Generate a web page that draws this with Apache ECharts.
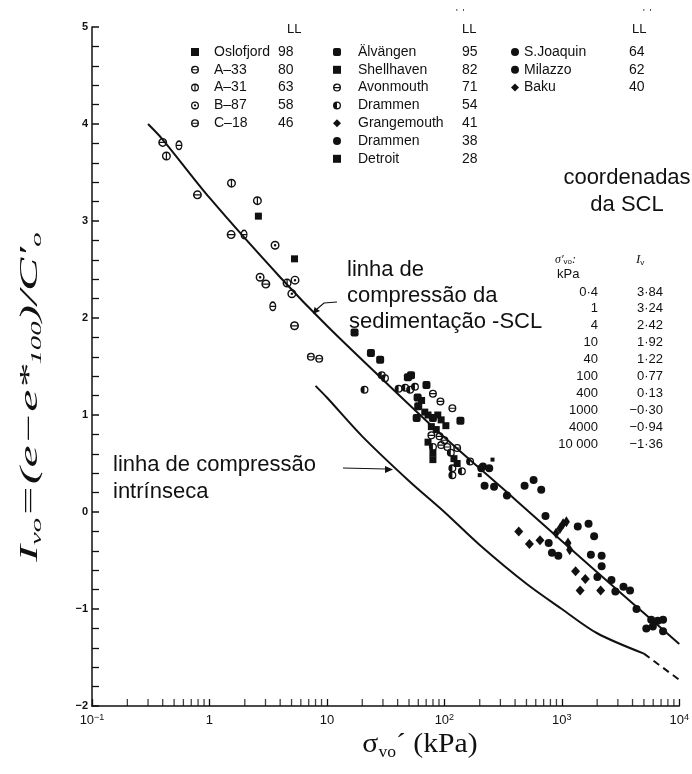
<!DOCTYPE html>
<html>
<head>
<meta charset="utf-8">
<script src="https://cdn.jsdelivr.net/npm/echarts@6/dist/echarts.min.js"></script>
<style>
  html, body { margin: 0; padding: 0; background: #fff; }
  #chart { width: 692px; height: 774px; }
</style>
</head>
<body>
<div id="chart"></div>
<script>
// ---- sedimentation compression line (SCL) coordinates, as tabulated ----
const sclStress = [0.4, 1, 4, 10, 40, 100, 400, 1000, 4000, 10000];
const sclIv = [3.84, 3.24, 2.42, 1.92, 1.22, 0.77, 0.13, -0.30, -0.94, -1.36];
const sclStart = [0.3, 4.0];

// ---- intrinsic compression line (solid part, then dashed extension) ----
const iclStress = [8, 10, 20, 50, 100, 200, 500, 1000, 2000, 5000];
const iclIv = [1.30, 1.18, 0.78, 0.32, 0.0, -0.34, -0.74, -1.00, -1.25, -1.46];
const iclDashStress = [5000, 10000];
const iclDashIv = [-1.46, -1.73];

// ---- legend columns: clay names and liquid limits ----
const col1Keys = ['oslofjord', 'a33', 'a31', 'b87', 'c18'];
const col1Labels = ['Oslofjord', 'A–33', 'A–31', 'B–87', 'C–18'];
const col1LL = [98, 80, 63, 58, 46];
const col2Keys = ['alvangen', 'shellhaven', 'avonmouth', 'drammen54', 'grangemouth', 'drammen38', 'detroit'];
const col2Labels = ['Älvängen', 'Shellhaven', 'Avonmouth', 'Drammen', 'Grangemouth', 'Drammen', 'Detroit'];
const col2LL = [95, 82, 71, 54, 41, 38, 28];
const col3Keys = ['sjoaquin', 'milazzo', 'baku'];
const col3Labels = ['S.Joaquin', 'Milazzo', 'Baku'];
const col3LL = [64, 62, 40];

// ---- measured points [σ'vo (kPa), Ivo] ----
const oslofjord = [[2.61, 3.05], [5.3, 2.61]];
const a33 = [[0.40, 3.81], [0.79, 3.27], [1.53, 2.86], [3.02, 2.35], [5.3, 1.92]];
const a31 = [[0.43, 3.67], [1.54, 3.39], [2.56, 3.21], [4.58, 2.36]];
const b87 = [[2.70, 2.42], [3.62, 2.75], [5.35, 2.39], [5.03, 2.25]];
const c18 = [[0.55, 3.78], [1.97, 2.86], [3.46, 2.12]];
const alvangen = [[17.2, 1.85], [23.7, 1.64], [28.4, 1.57], [48.9, 1.39], [52, 1.41], [70.4, 1.31],
  [137, 0.94], [59.2, 1.18], [59.9, 1.09], [58.1, 0.97], [79.9, 0.97]];
const shellhaven = [[64, 1.15], [68.1, 1.03], [72.6, 1.00], [87.9, 1.00], [93.9, 0.95], [103, 0.89],
  [77.5, 0.88], [85.3, 0.85], [72.6, 0.72], [79.9, 0.61], [79.9, 0.54], [120.7, 0.55], [128.5, 0.50]];
const avonmouth = [[7.3, 1.60], [8.6, 1.58], [79.9, 1.22], [92.6, 1.14], [117, 1.07], [77.5, 0.79],
  [90.9, 0.78], [100, 0.74], [93.9, 0.69], [106, 0.67], [128.5, 0.66]];
const drammen54 = [[20.9, 1.26], [29.3, 1.41], [31.2, 1.38], [40.8, 1.27], [46.4, 1.28], [51.1, 1.26],
  [56.2, 1.29], [79.9, 0.67], [113.5, 0.61], [117, 0.45], [141, 0.42], [117, 0.38], [165.6, 0.52], [206, 0.45]];
const grangemouth = [[430, -0.20], [530, -0.33], [652, -0.29], [1309, -0.61], [1585, -0.69], [1432, -0.81], [2142, -0.81]];
const drammen38 = [[213, 0.47], [241, 0.45], [220, 0.27], [265, 0.26], [341, 0.17]];
const detroit = [[257, 0.54], [200, 0.38]];
const sjoaquin = [[482, 0.27], [575, 0.33], [668, 0.23], [726, -0.04], [1367, -0.15], [1689, -0.12], [1884, -0.25]];
const milazzo = [[773, -0.32], [824, -0.42], [934, -0.45], [1768, -0.44], [2183, -0.45], [2183, -0.56],
  [2007, -0.67], [2646, -0.70], [2858, -0.82], [3350, -0.77], [3810, -0.81], [4325, -1.00],
  [5768, -1.11], [6561, -1.12], [5240, -1.20], [5957, -1.18], [7280, -1.11], [7280, -1.23]];
const baku = [[893, -0.22], [964, -0.17], [1026, -0.12], [1094, -0.10], [1129, -0.32], [1166, -0.39]];

// ---- axis tick values ----
const xDecades = [0.1, 1, 10, 100, 1000];
const xMinorMult = [2, 3, 4, 5, 6, 7, 8, 9];
const xTickText = { '-1': '10{p|−1}', '0': '1', '1': '10', '2': '10{p|2}', '3': '10{p|3}', '4': '10{p|4}' };

const soilData = { oslofjord, a33, a31, b87, c18, alvangen, shellhaven, avonmouth, drammen54,
  grangemouth, drammen38, detroit, sjoaquin, milazzo, baku };

// ---- marker shapes (nonzero winding cut-outs) ----
const RING = 'M5 0A5 5 0 1 1 5 10A5 5 0 1 1 5 0Z';
const P_THETA = 'path://' + RING + 'M8.33 4.3A3.4 3.4 0 0 0 1.67 4.3ZM1.67 5.7A3.4 3.4 0 0 0 8.33 5.7Z';
const P_PHI = 'path://' + RING + 'M4.3 1.67A3.4 3.4 0 0 0 4.3 8.33ZM5.7 8.33A3.4 3.4 0 0 0 5.7 1.67Z';
const P_DOT = 'path://' + RING + 'M5 1.6A3.4 3.4 0 1 0 5 8.4A3.4 3.4 0 1 0 5 1.6ZM5 3.6A1.4 1.4 0 1 1 5 6.4A1.4 1.4 0 1 1 5 3.6Z';
const P_HALF = 'path://' + RING + 'M5 8.4A3.4 3.4 0 0 0 5 1.6Z';

const markerStyle = {
  oslofjord: { symbol: 'rect', size: 7 },
  a33: { symbol: P_THETA, size: 9 },
  a31: { symbol: P_PHI, size: 9 },
  b87: { symbol: P_DOT, size: 9 },
  c18: { symbol: P_THETA, size: [7, 10] },
  alvangen: { symbol: 'roundRect', size: 8 },
  shellhaven: { symbol: 'rect', size: 7 },
  avonmouth: { symbol: P_THETA, size: 8 },
  drammen54: { symbol: P_HALF, size: 8 },
  grangemouth: { symbol: 'diamond', size: [9, 10] },
  drammen38: { symbol: 'circle', size: 8 },
  detroit: { symbol: 'rect', size: 4 },
  sjoaquin: { symbol: 'circle', size: 8 },
  milazzo: { symbol: 'circle', size: 8 },
  baku: { symbol: 'diamond', size: [7, 11] }
};

const SANS = "'Liberation Sans', Arial, Helvetica, sans-serif";
const SERIF = "'Liberation Serif', 'Times New Roman', serif";
const INK = '#111';

const labelOf = {}, llOf = {};
[[col1Keys, col1Labels, col1LL], [col2Keys, col2Labels, col2LL], [col3Keys, col3Labels, col3LL]]
  .forEach(([keys, labels, lls]) => keys.forEach((k, i) => { labelOf[k] = labels[i]; llOf[k] = lls[i]; }));

const zip = (xs, ys) => xs.map((x, i) => [x, ys[i]]);

function legendColumn(keys, left, gap, nameWidth) {
  return {
    orient: 'vertical', left: left, top: 45, padding: 0,
    itemWidth: 8, itemHeight: 8, itemGap: 3.8,
    selectedMode: false,
    data: keys,
    textStyle: {
      fontFamily: SANS, fontSize: 14, color: INK, lineHeight: 14,
      rich: {
        g: { width: gap, fontSize: 14, lineHeight: 14 },
        n: { width: nameWidth, fontFamily: SANS, fontSize: 14, lineHeight: 14, color: INK },
        v: { fontFamily: SANS, fontSize: 14, lineHeight: 14, color: INK }
      }
    },
    formatter: k => (gap ? '{g| }' : '') + '{n|' + labelOf[k] + '}{v|' + llOf[k] + '}'
  };
}

function txt(x, y, text, size, align, extra) {
  return {
    type: 'text', x: x, y: y, silent: true,
    style: Object.assign({
      text: text, fill: INK, fontFamily: SANS, fontSize: size,
      align: align || 'left', verticalAlign: 'middle'
    }, extra || {})
  };
}

// table of SCL coordinates
const tableRows = sclStress.map((s, i) => {
  const sTxt = s === 10000 ? '10 000' : String(s).replace('.', '·');
  const v = sclIv[i];
  const vTxt = (v < 0 ? '−' : '') + Math.abs(v).toFixed(2).replace('.', '·');
  const y = 292 + i * 16.9;
  return [txt(598, y, sTxt, 13, 'right'), txt(663, y, vTxt, 13, 'right')];
}).flat();

const minorTickData = [];
xDecades.forEach(d => xMinorMult.forEach(m => minorTickData.push([d * m, -2])));

const soilSeries = col1Keys.concat(col2Keys, col3Keys).map(k => ({
  type: 'scatter', name: k, data: soilData[k],
  symbol: markerStyle[k].symbol, symbolSize: markerStyle[k].size,
  itemStyle: { color: INK, opacity: 1 },
  z: 5, clip: false, silent: true
}));

const option = {
  backgroundColor: '#fff',
  animation: false,
  grid: { left: 92, right: 11, top: 27, bottom: 68, containLabel: false },
  xAxis: {
    type: 'log', logBase: 10, min: 0.1, max: 10000,
    axisLine: { show: true, onZero: false, lineStyle: { color: INK, width: 1.5 } },
    axisTick: { show: true, inside: true, length: 7, lineStyle: { color: INK, width: 1.3 } },
    minorTick: { show: false },
    splitLine: { show: false },
    axisLabel: {
      color: INK, fontFamily: SANS, fontSize: 13, margin: 7, lineHeight: 14,
      formatter: v => xTickText[String(Math.round(Math.log10(v)))] || '',
      rich: { p: { fontFamily: SANS, fontSize: 9, lineHeight: 9, verticalAlign: 'top', color: INK } }
    }
  },
  yAxis: {
    type: 'value', min: -2, max: 5, interval: 1,
    axisLine: { show: true, onZero: false, lineStyle: { color: INK, width: 1.5 } },
    axisTick: { show: true, inside: true, length: 7, lineStyle: { color: INK, width: 1.5 } },
    minorTick: { show: true, splitNumber: 5, length: 7, lineStyle: { color: INK, width: 1.3 } },
    splitLine: { show: false },
    axisLabel: {
      color: INK, fontFamily: SANS, fontSize: 11, fontWeight: 'bold', margin: 4,
      formatter: v => (v < 0 ? '−' + (-v) : String(v))
    }
  },
  legend: [
    legendColumn(col1Keys, 191, 10, 64),
    legendColumn(col2Keys, 333, 12, 104),
    legendColumn(col3Keys, 511, 0, 105)
  ],
  series: [
    {
      type: 'line', name: 'SCL', data: [sclStart].concat(zip(sclStress, sclIv)),
      symbol: 'none', smooth: 0.3, lineStyle: { color: INK, width: 2 }, z: 3, silent: true
    },
    {
      type: 'line', name: 'ICL', data: zip(iclStress, iclIv),
      symbol: 'none', smooth: 0.3, lineStyle: { color: INK, width: 2 }, z: 3, silent: true
    },
    {
      type: 'line', name: 'ICL-ext', data: zip(iclDashStress, iclDashIv),
      symbol: 'none', lineStyle: { color: INK, width: 2, type: [7, 5] }, z: 3, silent: true
    },
    {
      type: 'scatter', name: 'xminor', data: minorTickData,
      symbol: 'rect', symbolSize: [1.3, 7], symbolOffset: [0, -3.5],
      itemStyle: { color: INK }, z: 2, clip: false, silent: true
    }
  ].concat(soilSeries),
  graphic: {
    elements: [
      // legend column headers
      txt(287, 29, 'LL', 13),
      txt(462, 29, 'LL', 13), txt(456, 13, "'  '", 9),
      txt(632, 29, 'LL', 13), txt(643, 13, "'  '", 9),

      // SCL annotation
      txt(347, 270, 'linha de', 22),
      txt(347, 296, 'compressão da', 22),
      txt(349, 322, 'sedimentação -SCL', 22),
      { type: 'polyline', silent: true, shape: { points: [[337, 302], [324, 303], [317, 309]] },
        style: { stroke: INK, lineWidth: 1.2, fill: null } },
      { type: 'polygon', silent: true, shape: { points: [[313, 314], [314.5, 307], [320, 311]] },
        style: { fill: INK } },

      // intrinsic line annotation
      txt(113, 465, 'linha de compressão', 22),
      txt(113, 492, 'intrínseca', 22),
      { type: 'polyline', silent: true, shape: { points: [[343, 468], [386, 469]] },
        style: { stroke: INK, lineWidth: 1.2, fill: null } },
      { type: 'polygon', silent: true, shape: { points: [[393, 469.5], [385, 466], [385, 473]] },
        style: { fill: INK } },

      // SCL coordinate table
      txt(627, 178, 'coordenadas', 22, 'center'),
      txt(627, 205, 'da SCL', 22, 'center'),
      txt(555, 260, "{i|σ′}{s|vo}{i|:}", 12, 'left', {
        rich: { i: { fontFamily: SERIF, fontStyle: 'italic', fontSize: 12, fill: INK },
                s: { fontFamily: SANS, fontSize: 8, fill: INK, verticalAlign: 'bottom', lineHeight: 8 } } }),
      txt(557, 274, 'kPa', 13),
      txt(636, 260, "{i|I}{s|v}", 12, 'left', {
        rich: { i: { fontFamily: SERIF, fontStyle: 'italic', fontSize: 13, fill: INK },
                s: { fontFamily: SANS, fontSize: 8, fill: INK, verticalAlign: 'bottom', lineHeight: 8 } } })
    ].concat(tableRows).concat([
      // axis titles
      {
        type: 'text', x: 30, y: 397, rotation: Math.PI / 2, scaleX: 1.92, scaleY: 1, silent: true,
        style: {
          text: '{i|I}{s|vo}{i|=(e−e*}{s|100}{i|)/C′}{s|o}',
          align: 'center', verticalAlign: 'middle', fill: INK,
          rich: {
            i: { fontFamily: SERIF, fontStyle: 'italic', fontSize: 26, lineHeight: 30, fill: INK },
            s: { fontFamily: SERIF, fontStyle: 'italic', fontSize: 15, lineHeight: 13, verticalAlign: 'bottom', fill: INK }
          }
        }
      },
      {
        type: 'text', x: 420, y: 745, scaleX: 1.1, silent: true,
        style: {
          text: '{m|σ}{s|vo}{m|´ (kPa)}',
          align: 'center', verticalAlign: 'middle', fill: INK,
          rich: {
            m: { fontFamily: SERIF, fontSize: 27, lineHeight: 32, fill: INK },
            s: { fontFamily: SERIF, fontSize: 16, lineHeight: 14, verticalAlign: 'bottom', fill: INK }
          }
        }
      }
    ])
  }
};

const chart = echarts.init(document.getElementById('chart'), null, { renderer: 'canvas' });
chart.setOption(option);
</script>
</body>
</html>
